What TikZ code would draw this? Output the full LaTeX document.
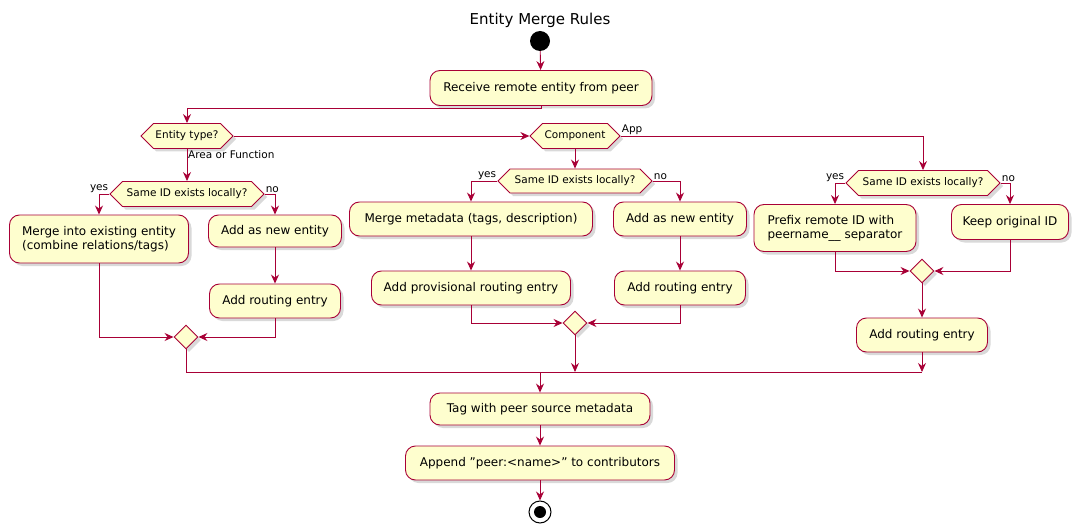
\documentclass[tikz,border=0pt]{standalone}
\usepackage{fontspec}
\setmainfont{DejaVu Sans}
\usetikzlibrary{arrows.meta,shapes.symbols,shapes.geometric,shadows}
\definecolor{pumlred}{HTML}{A80036}
\definecolor{pumlfill}{HTML}{FEFECE}
\tikzset{
  act/.style={draw=pumlred, fill=pumlfill, rounded corners=10pt, line width=0.9pt,
    align=left, font=\fontsize{12}{14}\selectfont, inner sep=0pt,
    drop shadow={opacity=0.3, shadow xshift=3pt, shadow yshift=-3pt}},
  ask/.style={draw=pumlred, fill=pumlfill, signal, signal to=west and east,
    line width=0.9pt, font=\fontsize{10.5}{12}\selectfont, inner sep=2pt,
    drop shadow={opacity=0.3, shadow xshift=3pt, shadow yshift=-3pt}},
  merger/.style={draw=pumlred, fill=pumlfill, diamond, minimum size=24pt, inner sep=0pt,
    line width=0.9pt, drop shadow={opacity=0.3, shadow xshift=3pt, shadow yshift=-3pt}},
  line/.style={draw=pumlred, line width=0.9pt},
  arr/.style={line, -{Stealth[length=9pt,width=8pt,inset=3pt]}},
  lbl/.style={font=\fontsize{10.5}{12}\selectfont, inner sep=1pt}
}
\begin{document}
\begin{tikzpicture}[x=1pt, y=-1pt]
    \useasboundingbox (0,0) rectangle (1079,532);
    % Title and start
    \node[font=\fontsize{15}{18}\selectfont] (title) at (540,20) {Entity Merge Rules};
    \node[circle, fill=black, minimum size=20pt, inner sep=0pt] (start) at (540,41) {};
    \node[act, minimum width=222pt, minimum height=35pt] (recv) at (541,88) {Receive remote entity from peer};

    % Entity type decisions
    \node[ask, minimum width=89pt, minimum height=25pt] (etype) at (187,136) {Entity type?};
    \node[ask, minimum width=90pt, minimum height=25pt] (comp) at (575,136) {Component};

    % Area or Function branch
    \node[ask, minimum width=154pt, minimum height=25pt] (same1) at (187,194) {Same ID exists locally?};
    \node[act, minimum width=179pt, minimum height=48pt] (merge1) at (99,239) {Merge into existing entity\\(combine relations/tags)};
    \node[act, minimum width=133pt, minimum height=32pt] (new1) at (275,231) {Add as new entity};
    \node[act, minimum width=131pt, minimum height=34pt] (route1) at (275,301) {Add routing entry};
    \node[merger] (m1) at (186,337) {};

    % Component branch
    \node[ask, minimum width=154pt, minimum height=24pt] (same2) at (575,181) {Same ID exists locally?};
    \node[act, minimum width=243pt, minimum height=34pt] (merge2) at (471,219) {Merge metadata (tags, description)};
    \node[act, minimum width=133pt, minimum height=34pt] (new2) at (680,219) {Add as new entity};
    \node[act, minimum width=199pt, minimum height=34pt] (prov2) at (471,288) {Add provisional routing entry};
    \node[act, minimum width=131pt, minimum height=34pt] (route2) at (680,288) {Add routing entry};
    \node[merger] (m2) at (575,323) {};

    % App branch
    \node[ask, minimum width=154pt, minimum height=25pt] (same3) at (923,183) {Same ID exists locally?};
    \node[act, minimum width=162pt, minimum height=47pt] (prefix3) at (835,228) {Prefix remote ID with\\peername\_\_ separator};
    \node[act, minimum width=117pt, minimum height=35pt] (keep3) at (1010,222) {Keep original ID};
    \node[merger] (m3) at (922,271) {};
    \node[act, minimum width=131pt, minimum height=34pt] (route3) at (922,335) {Add routing entry};

    % Common tail
    \coordinate (bar) at (540,372);
    \node[act, minimum width=220pt, minimum height=32pt] (tag) at (540,409) {Tag with peer source metadata};
    \node[act, minimum width=269pt, minimum height=34pt] (contrib) at (540,463) {Append "peer:<name>" to contributors};
    \node[circle, draw=black, line width=1pt, minimum size=22pt, inner sep=0pt] (stop) at (540,512) {};
    \fill (stop.center) circle (6pt);

    % Top connectors
    \draw[arr] (start) -- (recv);
    \draw[arr] (recv.south) -- ++(0,3) -| (etype.north);
    \draw[arr] (etype.east) -- (comp.west);
    \draw[arr] (comp.east) -| (same3.north);
    \node[lbl, above right] at (comp.east) {App};
    \draw[arr] (etype.south) -- (same1.north);
    \node[lbl, below right] at (etype.south) {Area or Function};
    \draw[arr] (comp.south) -- (same2.north);

    % Branch connectors
    \draw[arr] (same1.west) -| (merge1.north);
    \node[lbl, above left] at (same1.west) {yes};
    \draw[arr] (same1.east) -| (new1.north);
    \node[lbl, above right] at (same1.east) {no};
    \draw[arr] (new1) -- (route1);
    \draw[arr] (merge1.south) |- (m1.west);
    \draw[arr] (route1.south) |- (m1.east);

    \draw[arr] (same2.west) -| (merge2.north);
    \node[lbl, above left] at (same2.west) {yes};
    \draw[arr] (same2.east) -| (new2.north);
    \node[lbl, above right] at (same2.east) {no};
    \draw[arr] (merge2) -- (prov2);
    \draw[arr] (new2) -- (route2);
    \draw[arr] (prov2.south) |- (m2.west);
    \draw[arr] (route2.south) |- (m2.east);

    \draw[arr] (same3.west) -| (prefix3.north);
    \node[lbl, above left] at (same3.west) {yes};
    \draw[arr] (same3.east) -| (keep3.north);
    \node[lbl, above right] at (same3.east) {no};
    \draw[arr] (prefix3.south) |- (m3.west);
    \draw[arr] (keep3.south) |- (m3.east);
    \draw[arr] (m3) -- (route3);

    % Join bar and tail
    \draw[line] (m1.south) |- (route3.south|-bar);
    \draw[arr] (m2.south) -- (m2.south|-bar);
    \draw[arr] (route3.south) -- (route3.south|-bar);
    \draw[arr] (bar) -- (tag.north);
    \draw[arr] (tag) -- (contrib);
    \draw[arr] (contrib) -- (stop);
\end{tikzpicture}
\end{document}
